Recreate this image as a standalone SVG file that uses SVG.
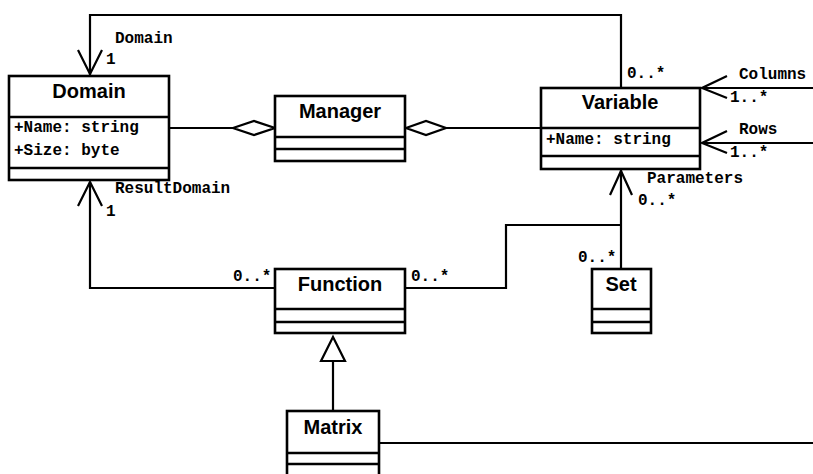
<svg xmlns="http://www.w3.org/2000/svg" width="813" height="474" viewBox="0 0 813 474">
<style>
.box{fill:#fff;stroke:#000;stroke-width:2.6}
.div{stroke:#000;stroke-width:2.6;fill:none}
.ln{fill:none;stroke:#000;stroke-width:2.2}
.hd{fill:none;stroke:#000;stroke-width:2.2}
.dia{fill:#fff;stroke:#000;stroke-width:2.2}
.title{font-family:"Liberation Sans",Arial,sans-serif;font-weight:bold;font-size:20px;text-anchor:middle}
.attr{font-family:"Liberation Mono","Courier New",monospace;font-weight:bold;font-size:16px}
.lbl{font-family:"Liberation Mono","Courier New",monospace;font-weight:bold;font-size:16px}
</style>
<rect width="813" height="474" fill="#fff"/>
<g id="connectors">
  <!-- Domain association -->
  <polyline class="ln" points="621,88 621,15 90,15 90,75"/>
  <polyline class="hd" points="78,50 90,74 102,50"/>
  <text class="lbl" x="115" y="43">Domain</text>
  <text class="lbl" x="106" y="64">1</text>
  <text class="lbl" x="627" y="78">0..*</text>
  <!-- Manager-Domain aggregation -->
  <line class="ln" x1="169" y1="128" x2="233" y2="128"/>
  <polygon class="dia" points="233,128 254,121 275,128 254,135"/>
  <!-- Manager-Variable aggregation -->
  <line class="ln" x1="446" y1="128" x2="541" y2="128"/>
  <polygon class="dia" points="406,128 426,121 446,128 426,135"/>
  <!-- Columns -->
  <line class="ln" x1="702" y1="88" x2="813" y2="88"/>
  <polyline class="hd" points="727,76 702,88 727,98"/>
  <text class="lbl" x="739" y="79">Columns</text>
  <text class="lbl" x="730" y="102">1..*</text>
  <!-- Rows -->
  <line class="ln" x1="702" y1="143" x2="813" y2="143"/>
  <polyline class="hd" points="727,131 702,143 727,153"/>
  <text class="lbl" x="739" y="134">Rows</text>
  <text class="lbl" x="730" y="157">1..*</text>
  <!-- Parameters -->
  <line class="ln" x1="621" y1="170" x2="621" y2="269"/>
  <polyline class="hd" points="610,195 621,171 632,195"/>
  <polyline class="ln" points="405,288 506,288 506,225 621,225"/>
  <text class="lbl" x="647" y="183">Parameters</text>
  <text class="lbl" x="638" y="205">0..*</text>
  <text class="lbl" x="578" y="262">0..*</text>
  <text class="lbl" x="411" y="281">0..*</text>
  <!-- ResultDomain -->
  <polyline class="ln" points="275,288 90,288 90,182"/>
  <polyline class="hd" points="78,206 90,182 102,206"/>
  <text class="lbl" x="115" y="193">ResultDomain</text>
  <text class="lbl" x="106" y="216">1</text>
  <text class="lbl" x="233" y="281">0..*</text>
  <!-- Generalization Matrix -> Function -->
  <line class="ln" x1="333" y1="361" x2="333" y2="411"/>
  <polygon class="dia" points="333,337 345,361 321,361"/>
  <!-- Matrix line -->
  <line class="ln" x1="379" y1="443" x2="813" y2="443"/>
</g>
<g id="Domain">
  <rect class="box" x="9" y="76" width="160" height="104"/>
  <line class="div" x1="9" y1="117" x2="169" y2="117"/>
  <line class="div" x1="9" y1="168" x2="169" y2="168"/>
  <text class="title" x="89" y="98">Domain</text>
  <text class="attr" x="14" y="132">+Name: string</text>
  <text class="attr" x="14" y="155">+Size: byte</text>
</g>
<g id="Manager">
  <rect class="box" x="275" y="96" width="130" height="65"/>
  <line class="div" x1="275" y1="137" x2="405" y2="137"/>
  <line class="div" x1="275" y1="149" x2="405" y2="149"/>
  <text class="title" x="340" y="118">Manager</text>
</g>
<g id="Variable">
  <rect class="box" x="541" y="88" width="159" height="81"/>
  <line class="div" x1="541" y1="128" x2="700" y2="128"/>
  <line class="div" x1="541" y1="156" x2="700" y2="156"/>
  <text class="title" x="620" y="109">Variable</text>
  <text class="attr" x="546" y="144">+Name: string</text>
</g>
<g id="Function">
  <rect class="box" x="275" y="269" width="130" height="64"/>
  <line class="div" x1="275" y1="309" x2="405" y2="309"/>
  <line class="div" x1="275" y1="322" x2="405" y2="322"/>
  <text class="title" x="340" y="291">Function</text>
</g>
<g id="Set">
  <rect class="box" x="592" y="269" width="59" height="64"/>
  <line class="div" x1="592" y1="309" x2="651" y2="309"/>
  <line class="div" x1="592" y1="322" x2="651" y2="322"/>
  <text class="title" x="621" y="291">Set</text>
</g>
<g id="Matrix">
  <rect class="box" x="287" y="411" width="92" height="70"/>
  <line class="div" x1="287" y1="453" x2="379" y2="453"/>
  <line class="div" x1="287" y1="464" x2="379" y2="464"/>
  <text class="title" x="333" y="434">Matrix</text>
</g>
</svg>
